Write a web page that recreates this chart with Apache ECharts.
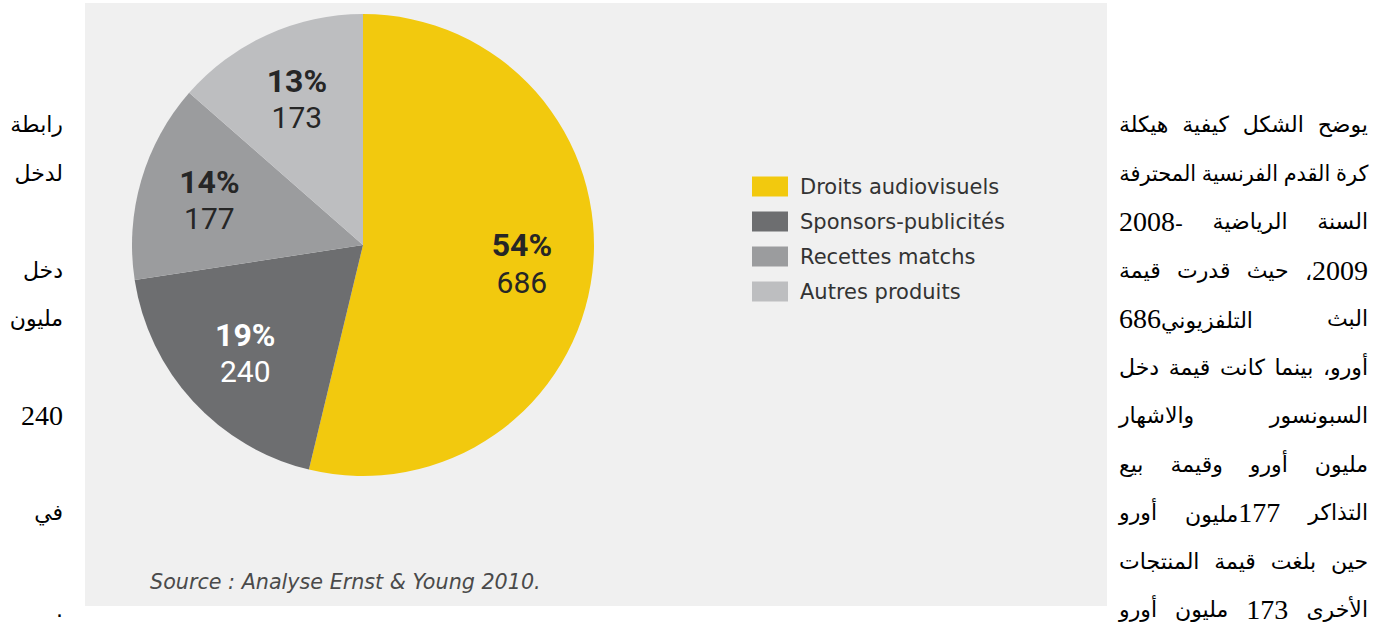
<!DOCTYPE html>
<html>
<head>
<meta charset="utf-8">
<script src="https://cdn.jsdelivr.net/npm/echarts/dist/echarts.min.js"></script>
<style>
html,body{margin:0;padding:0;background:#fff;width:1382px;height:639px;overflow:hidden;}
#chart{position:absolute;left:85px;top:3px;width:1022px;height:603px;}
.col{position:absolute;direction:rtl;font-family:"DejaVu Sans",sans-serif;font-size:22px;color:#000;}
.line{position:absolute;right:0;height:48px;line-height:48px;display:flex;justify-content:space-between;white-space:nowrap;transform-origin:100% 50%;}
.left .line{justify-content:flex-start;}
.num{font-family:"Liberation Serif",serif;font-size:28px;}
</style>
</head>
<body>
<div id="chart"></div>
<div class="col right" id="rightCol" style="left:1119px;width:249px;top:0;height:639px;"></div>
<div class="col left" id="leftCol" style="left:0;width:63px;top:0;height:639px;"></div>
<script>
// ---- data ----
const categories = ['Droits audiovisuels', 'Sponsors-publicités', 'Recettes matchs', 'Autres produits'];
const values = [686, 240, 177, 173];
const percentLabels = ['54%', '19%', '14%', '13%'];
const sourceText = 'Source : Analyse Ernst & Young 2010.';

const rightLines = [
  ['يوضح', 'الشكل', 'كيفية', 'هيكلة'],
  ['كرة', 'القدم', 'الفرنسية', 'المحترفة'],
  ['السنة', 'الرياضية', '2008-'],
  ['2009،', 'حيث', 'قدرت', 'قيمة'],
  ['البث', 'التلفزيوني686'],
  ['أورو،', 'بينما', 'كانت', 'قيمة', 'دخل'],
  ['السبونسور', 'والاشهار'],
  ['مليون', 'أورو', 'وقيمة', 'بيع'],
  ['التذاكر', '177مليون', 'أورو'],
  ['حين', 'بلغت', 'قيمة', 'المنتجات'],
  ['الأخرى', '173', 'مليون', 'أورو']
];
// left column: [line index, text]
const leftLines = [[0, 'رابطة'], [1, 'لدخل'], [3, 'دخل'], [4, 'مليون'], [6, '240'], [8, 'في'], [10, '.']];

// ---- styles ----
const colors = ['#F2C90E', '#6D6E70', '#9B9C9E', '#BDBEC0'];
const labelColors = ['#262626', '#ffffff', '#262626', '#262626'];

// ---- text columns ----
const firstLineCenter = 125, lineStep = 48.5;
function fmt(t) {
  return t.replace(/([0-9]+)/g, '<span class="num">$1</span>');
}
function lineDiv(parent, idx, words) {
  const d = document.createElement('div');
  d.className = 'line';
  d.style.top = (firstLineCenter + idx * lineStep - 24) + 'px';
  d.innerHTML = words.map(w => '<span' + (w === '2008-' ? ' dir="ltr"' : '') + '>' + fmt(w) + '</span>').join('');
  parent.appendChild(d);
  return d;
}
const rc = document.getElementById('rightCol');
const W = 249, minGap = 6;
rightLines.forEach((ws, i) => {
  const d = lineDiv(rc, i, ws);
  d.style.width = W + 'px';
  let natural = 0;
  Array.from(d.children).forEach(c => { natural += c.getBoundingClientRect().width; });
  const need = natural + minGap * (ws.length - 1);
  if (need > W) {
    d.style.width = need + 'px';
    d.style.transform = 'scaleX(' + (W / need) + ')';
  }
});
const lc = document.getElementById('leftCol');
leftLines.forEach(([i, t]) => { const d = lineDiv(lc, i, [t]); d.style.width = '63px'; });

// ---- chart ----
const chart = echarts.init(document.getElementById('chart'), null, {renderer: 'svg'});
const R = 231;
const center = [278, 242];
const pieData = categories.map((n, i) => ({name: n, value: values[i], itemStyle: {color: colors[i]}}));
const labelData = categories.map((n, i) => ({
  name: n, value: values[i],
  label: {
    rich: {
      p: {fontSize: 32, fontWeight: 'bold', fontFamily: 'Roboto', color: labelColors[i], lineHeight: 37},
      v: {fontSize: 30, fontFamily: 'Roboto', color: labelColors[i], lineHeight: 37}
    }
  }
}));
chart.setOption({
  backgroundColor: '#F0F0F0',
  animation: false,
  legend: {
    orient: 'vertical', left: 667, top: 173, padding: 0,
    icon: 'rect', itemWidth: 36, itemHeight: 20, itemGap: 14,
    selectedMode: false,
    data: categories,
    textStyle: {fontFamily: 'DejaVu Sans', fontSize: 21, color: '#333333', padding: [0, 0, 0, 7]}
  },
  graphic: [{
    type: 'text', left: 65, top: 568,
    style: {text: sourceText, font: 'italic 20.7px "DejaVu Sans"', fill: '#4a4a4a'}
  }],
  series: [
    {
      type: 'pie', radius: [0, R], center: center, startAngle: 90, clockwise: true,
      silent: true, emphasis: {disabled: true},
      label: {show: false}, labelLine: {show: false},
      itemStyle: {borderWidth: 0},
      data: pieData
    },
    {
      type: 'pie', radius: [0, 314], center: center, startAngle: 90, clockwise: true,
      silent: true, emphasis: {disabled: true}, legendHoverLink: false,
      itemStyle: {color: 'rgba(0,0,0,0)', borderWidth: 0},
      labelLine: {show: false},
      label: {
        show: true, position: 'inside', align: 'center',
        formatter: p => '{p|' + percentLabels[p.dataIndex] + '}\n{v|' + values[p.dataIndex] + '}'
      },
      data: labelData
    }
  ]
});
</script>
</body>
</html>
